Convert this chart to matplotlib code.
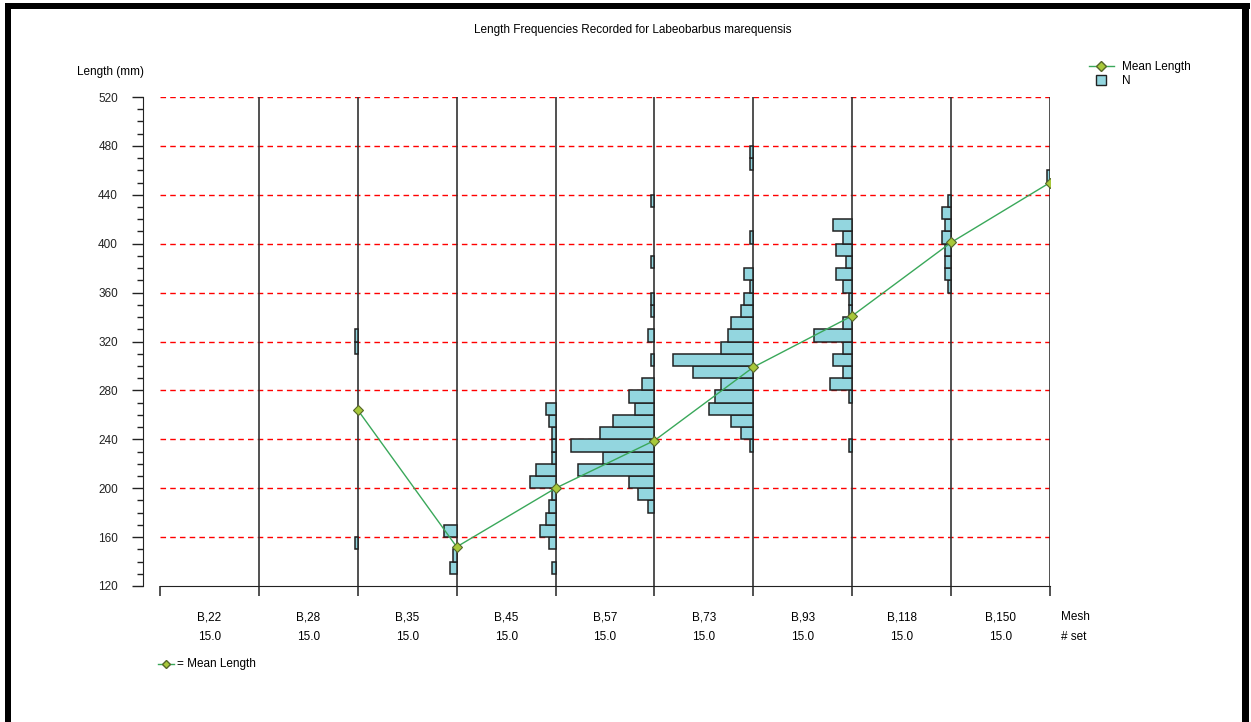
import matplotlib
matplotlib.use("Agg")
import matplotlib.pyplot as plt
import numpy as np
from matplotlib.lines import Line2D
from matplotlib.patches import Rectangle
from matplotlib.ticker import MultipleLocator
from matplotlib.transforms import blended_transform_factory

plt.rcParams['font.family'] = ['Liberation Sans', 'DejaVu Sans']
plt.rcParams['font.size'] = 8.5

# mesh groups and number of sets
mesh = ["B,22", "B,28", "B,35", "B,45", "B,57", "B,73", "B,93", "B,118", "B,150"]
n_set = [15.0, 15.0, 15.0, 15.0, 15.0, 15.0, 15.0, 15.0, 15.0]

# mean length (mm) per mesh, B,22 has no fish
mean_length = [np.nan, 264, 152, 200, 239, 299, 341, 401, 450]

# length classes (lower edge, mm) and counts per mesh
bins_b22, n_b22 = [], []
bins_b28, n_b28 = [150, 310, 320], [1, 1, 1]
bins_b35, n_b35 = [130, 140, 160], [2, 1, 4]
bins_b45 = [130, 150, 160, 170, 180, 190, 200, 210, 220, 230, 240, 250, 260]
n_b45 = [1, 2, 5, 3, 2, 1, 8, 6, 1, 1, 1, 2, 3]
bins_b57 = [180, 190, 200, 210, 220, 230, 240, 250, 260, 270, 280, 300, 320, 340, 350, 380, 430]
n_b57 = [2, 5, 8, 24, 16, 26, 17, 13, 6, 8, 4, 1, 2, 1, 1, 1, 1]
bins_b73 = [230, 240, 250, 260, 270, 280, 290, 300, 310, 320, 330, 340, 350, 360, 370, 400, 460, 470]
n_b73 = [1, 4, 7, 14, 12, 10, 19, 25, 10, 8, 7, 4, 3, 1, 3, 1, 1, 1]
bins_b93 = [230, 270, 280, 290, 300, 310, 320, 330, 340, 350, 360, 370, 380, 390, 400, 410]
n_b93 = [1, 1, 7, 3, 6, 3, 12, 3, 1, 1, 3, 5, 2, 5, 3, 6]
bins_b118 = [360, 370, 380, 390, 400, 410, 420, 430]
n_b118 = [1, 2, 2, 2, 3, 2, 3, 1]
bins_b150, n_b150 = [450], [1]

all_bins = [bins_b22, bins_b28, bins_b35, bins_b45, bins_b57, bins_b73, bins_b93, bins_b118, bins_b150]
all_n = [n_b22, n_b28, n_b35, n_b45, n_b57, n_b73, n_b93, n_b118, n_b150]

W, H = 1251, 722
fig = plt.figure(figsize=(W / 100, H / 100), dpi=100)
ax = fig.add_axes([160 / W, 1 - 586 / H, 890 / W, 489 / H])

bar_scale = 3.2 / 98.9  # column width units per fish
bar_col = '#93d6df'
green = '#3aa85a'

ax.set_xlim(0, 9)
ax.set_ylim(120, 520)

# red dashed grid
for g in range(160, 521, 40):
    ax.axhline(g, color='red', lw=1, ls=(0, (4, 3)), zorder=1)

# column lines
ax.vlines(np.arange(1, 10), 120, 520, color='#333333', lw=1.2, zorder=2)

# histograms drawn leftwards from the right edge of each mesh column
for i, (b, n) in enumerate(zip(all_bins, all_n)):
    if len(b) == 0:
        continue
    ax.barh(np.array(b) + 5, -np.array(n) * bar_scale, height=10, left=i + 1,
            color=bar_col, edgecolor='#222222', lw=1.1, zorder=3)

xs = np.arange(1, 10)
ax.plot(xs, mean_length, color=green, lw=1, zorder=4)
ax.plot(xs, mean_length, ls='none', marker='D', ms=5, mfc='#a8c83a', mec='#55662a', mew=0.8, zorder=5)

# axes styling
for s in ['top', 'right']:
    ax.spines[s].set_visible(False)
ax.spines['left'].set_position(('outward', 12.2))
ax.spines['left'].set_color('#222222')
ax.spines['bottom'].set_color('#222222')
ax.yaxis.set_major_locator(MultipleLocator(40))
ax.yaxis.set_minor_locator(MultipleLocator(10))
ax.tick_params(axis='y', which='major', length=8, width=1, pad=10, labelsize=8.5, colors='#222222')
ax.tick_params(axis='y', which='minor', length=4, width=1, colors='#222222')
ax.set_xticks(np.arange(0, 10))
ax.tick_params(axis='x', length=7.5, width=1.2, labelbottom=False, colors='#333333')

trans = blended_transform_factory(ax.transData, fig.transFigure)
for i, (m, s) in enumerate(zip(mesh, n_set)):
    ax.text(i + 0.5, 1 - 617 / H, m, transform=trans, ha='center', va='center', fontsize=8.5)
    ax.text(i + 0.5, 1 - 637 / H, f'{s:.1f}', transform=trans, ha='center', va='center', fontsize=8.5)
fig.text(1061 / W, 1 - 617 / H, 'Mesh', ha='left', va='center', fontsize=8.5)
fig.text(1061 / W, 1 - 637 / H, '# set', ha='left', va='center', fontsize=8.5)

fig.text(77 / W, 1 - 72 / H, 'Length (mm)', ha='left', va='center', fontsize=8.5)
fig.text(633 / W, 1 - 30 / H, 'Length Frequencies Recorded for Labeobarbus marequensis',
         ha='center', va='center', fontsize=8.5)

# bottom note
fig.add_artist(Line2D([158 / W, 166 / W, 174 / W], [1 - 664 / H] * 3, color=green, lw=1,
                      marker='D', ms=4, mfc='#a8c83a', mec='#55662a', markevery=[1]))
fig.text(177 / W, 1 - 664 / H, '= Mean Length', ha='left', va='center', fontsize=8.5)

# legend top right
handles = [Line2D([0], [0], color=green, lw=1, marker='D', ms=5, mfc='#a8c83a', mec='#55662a'),
           Line2D([0], [0], ls='none', marker='s', ms=6.5, mfc=bar_col, mec='#222222', mew=1)]
fig.legend(handles, ['Mean Length', 'N'], loc='upper left', bbox_to_anchor=(1089 / W, 1 - 61 / H),
           frameon=False, fontsize=8.5, handlelength=2.1, handletextpad=0.7, labelspacing=0.15,
           borderpad=0, borderaxespad=0)

# window frame
fig.add_artist(Rectangle((5 / W, 0), 6 / W, 1 - 3 / H, transform=fig.transFigure, color='black', lw=0))
fig.add_artist(Rectangle((5 / W, 1 - 9 / H), 1245 / W, 6 / H, transform=fig.transFigure, color='black', lw=0))
fig.add_artist(Rectangle((1242 / W, 0), 7 / W, 1 - 3 / H, transform=fig.transFigure, color='black', lw=0))

fig.savefig('out.png', dpi=100)
